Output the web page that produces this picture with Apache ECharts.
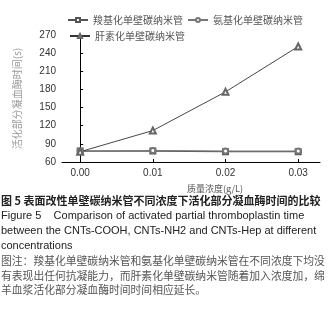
<!DOCTYPE html>
<html>
<head>
<meta charset="utf-8">
<script src="https://cdn.jsdelivr.net/npm/echarts@6/dist/echarts.min.js"></script>
<style>
  html, body { margin: 0; padding: 0; background: #fff; }
  #main { width: 335px; height: 310px; }
</style>
</head>
<body>
<div id="main"></div>
<script>
// 浓度 (g/L)
const concentrations = [0, 0.01, 0.02, 0.03];
// 活化部分凝血酶时间 (s)
const cooh = [78, 78, 77, 77];
const nh2 = [78, 79, 78, 78];
const hep = [77, 112, 176, 251];
const xTicks = [0, 0.01, 0.02, 0.03];

const seriesNames = ['羧基化单壁碳纳米管', '氨基化单壁碳纳米管', '肝素化单壁碳纳米管'];

const captionLines = [
  { text: '图 5 表面改性单壁碳纳米管不同浓度下活化部分凝血酶时间的比较', y: 202, bold: true },
  { text: 'Figure 5    Comparison of activated partial thromboplastin time', y: 217, en: true },
  { text: 'between the CNTs-COOH, CNTs-NH2 and CNTs-Hep at different', y: 232, en: true },
  { text: 'concentrations', y: 247, en: true },
  { text: '图注：羧基化单壁碳纳米管和氨基化单壁碳纳米管在不同浓度下均没', y: 263, note: true },
  { text: '有表现出任何抗凝能力，而肝素化单壁碳纳米管随着加入浓度加，绵', y: 278, note: true },
  { text: '羊血浆活化部分凝血酶时间时间相应延长。', y: 292, note: true }
];

const pairs = arr => concentrations.map((c, i) => [c, arr[i]]);
const cjk = '"Noto Sans CJK SC", "Liberation Sans", sans-serif';

const chart = echarts.init(document.getElementById('main'));

const legendBase = {
  orient: 'horizontal',
  itemWidth: 20,
  itemHeight: 5,
  itemGap: 4,
  textStyle: { fontSize: 10, color: '#555', fontFamily: cjk },
  padding: 0
};

chart.setOption({
  animation: false,
  grid: { left: 62, right: 15, top: 35, bottom: 148 },
  legend: [
    Object.assign({ data: [seriesNames[0]], left: 67, top: 15 }, legendBase),
    Object.assign({ data: [seriesNames[1]], left: 187, top: 15 }, legendBase),
    Object.assign({ data: [seriesNames[2]], left: 69, top: 31 }, legendBase)
  ],
  xAxis: {
    type: 'value',
    min: -0.0025,
    max: 0.033,
    name: '质量浓度(g/L)',
    nameLocation: 'middle',
    nameGap: 22,
    nameTextStyle: { fontSize: 9, color: '#555', fontFamily: cjk, padding: [0, 0, 0, 48] },
    axisLine: { show: true, lineStyle: { color: '#000', width: 1 } },
    axisTick: { show: true, inside: true, length: 3, customValues: xTicks, lineStyle: { color: '#000' } },
    axisLabel: {
      customValues: xTicks,
      formatter: v => v.toFixed(2),
      fontSize: 10, color: '#333', fontFamily: 'Liberation Sans', margin: 6
    },
    splitLine: { show: false }
  },
  yAxis: {
    type: 'value',
    min: 60,
    max: 270,
    interval: 30,
    name: '活化部分凝血酶时间(s)',
    nameLocation: 'middle',
    nameGap: 40,
    nameTextStyle: { fontSize: 10, color: '#999', fontFamily: cjk },
    axisLine: { show: true, lineStyle: { color: '#000', width: 1 } },
    axisTick: { show: true, inside: true, length: 3, lineStyle: { color: '#000' } },
    axisLabel: { fontSize: 10, color: '#333', fontFamily: 'Liberation Sans', margin: 6 },
    splitLine: { show: false }
  },
  series: [
    {
      name: seriesNames[0], type: 'line', data: pairs(cooh),
      symbol: 'emptyRect', symbolSize: 5,
      lineStyle: { color: '#555', width: 1.2 },
      itemStyle: { color: '#555', borderColor: '#555', borderWidth: 1 }
    },
    {
      name: seriesNames[1], type: 'line', data: pairs(nh2),
      symbol: 'emptyCircle', symbolSize: 5,
      lineStyle: { color: '#777', width: 1.2 },
      itemStyle: { color: '#777', borderColor: '#777', borderWidth: 1 }
    },
    {
      name: seriesNames[2], type: 'line', data: pairs(hep),
      symbol: 'emptyTriangle', symbolSize: 6,
      lineStyle: { color: '#333', width: 0.9 },
      itemStyle: { color: '#666', borderColor: '#666', borderWidth: 1 }
    }
  ],
  graphic: captionLines.map(l => ({
    type: 'text',
    left: 1,
    top: l.y - 7,
    style: {
      text: l.text,
      fill: l.note ? '#555' : '#222',
      fontSize: l.en ? 11 : (l.bold ? 11 : 10.8),
      fontWeight: l.bold ? 'bold' : 'normal',
      fontFamily: l.en ? '"Liberation Sans", Arial, sans-serif' : cjk
    }
  }))
});
</script>
</body>
</html>
